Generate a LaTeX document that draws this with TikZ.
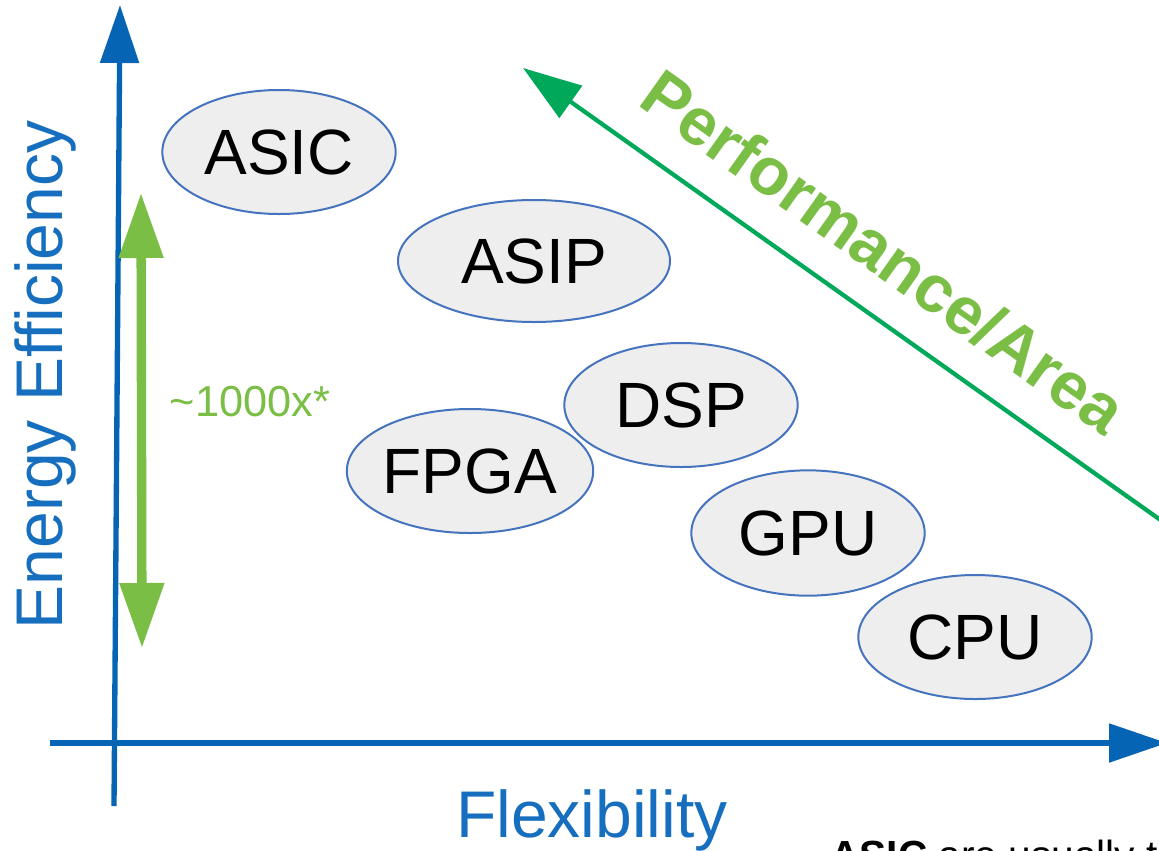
\documentclass[tikz,border=0pt]{standalone}
\usepackage{fontspec}
\setmainfont{Liberation Sans}
\usetikzlibrary{arrows.meta,shapes.geometric}
\definecolor{axisblue}{RGB}{6,100,180}
\definecolor{labelblue}{RGB}{22,110,190}
\definecolor{lightgreen}{RGB}{122,190,70}
\definecolor{darkgreen}{RGB}{0,168,90}
\definecolor{ellfill}{RGB}{238,238,238}
\definecolor{ellline}{RGB}{70,115,190}
\tikzset{
  chip/.style={ellipse, draw=ellline, line width=1.5pt, fill=ellfill,
    minimum width=175pt, minimum height=93pt, inner sep=0pt,
    font=\fontsize{48}{50}\selectfont},
  axisline/.style={draw=axisblue, line width=4pt,
    -{Triangle[length=43.5pt,width=28.5pt]}},
  axislabel/.style={text=labelblue, font=\fontsize{49.5}{52}\selectfont, inner sep=0pt},
}
\begin{document}
\begin{tikzpicture}[x=0.75pt,y=-0.75pt]
\useasboundingbox (0,0) rectangle (1159,850);
\clip (0,0) rectangle (1159,850);
% axes
\coordinate (ybot) at (114,806);
\coordinate (ytop) at (120,5);
\coordinate (xl) at (50,743);
\coordinate (xr) at (1167,743);
\draw[axisline] (ybot) -- (ytop);
\draw[axisline] (xl) -- (xr);
% axis labels
\node[axislabel, rotate=90] (ee) at (45,375) {Energy Efficiency};
\node[axislabel, anchor=base] (flex) at (592,837) {Flexibility};
% 1000x arrow
\coordinate (gtop) at (141,193);
\coordinate (gbot) at (142,648);
\draw[draw=lightgreen, line width=7pt,
  {Triangle[length=48.75pt,width=32pt]}-{Triangle[length=48.75pt,width=32pt]}] (gtop) -- (gbot);
\node[text=lightgreen, font=\fontsize{32.5}{34}\selectfont, inner sep=0pt] (factor) at (250,402) {\textasciitilde 1000x*};
% performance / area arrow
\coordinate (dtip) at (523,68);
\coordinate (dend) at (1200,548);
\draw[draw=darkgreen, line width=3.2pt,
  -{Triangle[length=44pt,width=29pt]}] (dend) -- (dtip);
\node[text=lightgreen, font=\bfseries\fontsize{50}{52}\selectfont, rotate=-35.4, inner sep=0pt] (perf) at (884,252) {Performance/Area};
% chips
\node[chip] (asic) at (279,152) {ASIC};
\node[chip, minimum width=204pt, minimum height=91.5pt] (asip) at (534,261) {ASIP};
\node[chip] (dsp) at (681,405) {DSP};
\node[chip, minimum width=172pt] (fpga) at (470,471) {FPGA};
\node[chip, minimum height=94pt] (gpu) at (808,533) {GPU};
\node[chip] (cpu) at (975,637) {CPU};
% cut-off caption text at bottom
\node[anchor=base west, inner sep=0pt, font=\fontsize{30.5}{32}\selectfont] (cap) at (830,869) {\textbf{ASIC} are usually th};
\end{tikzpicture}
\end{document}
